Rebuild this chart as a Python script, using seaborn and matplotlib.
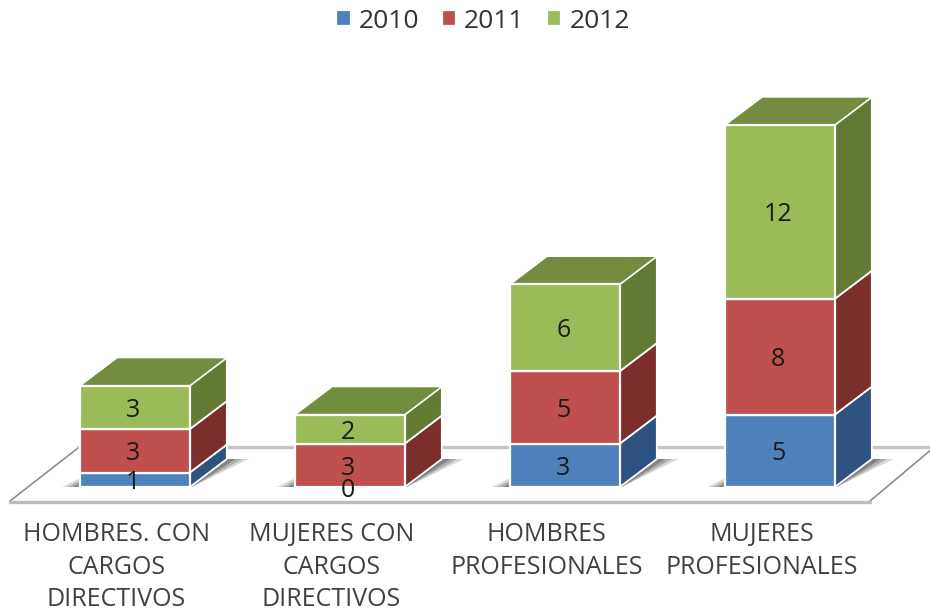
import matplotlib
matplotlib.use('Agg')
import numpy as np
import matplotlib.pyplot as plt
import seaborn as sns
from matplotlib.patches import Polygon

categories = ['HOMBRES. CON\nCARGOS\nDIRECTIVOS', 'MUJERES CON\nCARGOS\nDIRECTIVOS',
              'HOMBRES\nPROFESIONALES', 'MUJERES\nPROFESIONALES']
years = ['2010', '2011', '2012']
v2010 = [1, 0, 3, 5]
v2011 = [3, 3, 5, 8]
v2012 = [3, 2, 6, 12]

front = ['#4f81bd', '#c0504d', '#9bbb59']
side = ['#2f5380', '#7b2f2d', '#637a35']
top_col = '#738d40'

sns.set_theme(style='white')
plt.rcParams['font.family'] = ['Open Sans', 'DejaVu Sans']

fig = plt.figure(figsize=(9.3, 6.11), dpi=100)
# axes stop at the bar baseline, labels hang below it
ax = fig.add_axes([0, 124 / 611, 1, 487 / 611])

# 215 px between bars, 14.48 px per unit
ux, uy = 1 / 215, 1 / 14.48
depth_x, depth_y = 37 * ux, 28 * uy

def fx(p):
    return (p - 135) * ux

def fy(p):
    return (487 - p) * uy

# floor
floor = Polygon([(fx(10), fy(501)), (fx(870), fy(501)), (fx(932), fy(447)), (fx(78), fy(447))],
                closed=True, fc='white', ec='none', zorder=0, clip_on=False)
ax.add_patch(floor)
ax.plot([fx(10), fx(78)], [fy(501), fy(448)], color='#8c8c8c', lw=1.2, zorder=1, clip_on=False)
ax.plot([fx(870), fx(932)], [fy(501), fy(449)], color='#8c8c8c', lw=1.2, zorder=1, clip_on=False)
ax.plot([fx(78), fx(932)], [fy(446.5), fy(446.5)], color='#c4c4c4', lw=2.4, zorder=1, clip_on=False)
ax.plot([fx(10), fx(870)], [fy(501.5), fy(501.5)], color='#bdbdbd', lw=2.4, zorder=1, clip_on=False)

x = np.arange(len(categories))
bottom = np.zeros(len(categories))
containers = []
for year, vals, col in zip(years, [v2010, v2011, v2012], front):
    sns.barplot(x=x, y=vals, bottom=bottom, color=col, saturation=1, width=0.51,
                native_scale=True, label=year, edgecolor='white', linewidth=1.6, zorder=3, ax=ax)
    containers.append(ax.containers[-1])
    bottom = bottom + np.array(vals)

ax.set_xlim(fx(0), fx(930))
ax.set_ylim(0, 487 * uy)

# faked depth: side and top faces taken from the drawn bars
for cont, scol in zip(containers, side):
    for p in cont.patches:
        x1 = p.get_x() + p.get_width()
        y0, h = p.get_y(), p.get_height()
        if h == 0:
            continue
        ax.add_patch(Polygon([(x1, y0), (x1 + depth_x, y0 + depth_y),
                              (x1 + depth_x, y0 + h + depth_y), (x1, y0 + h)],
                             closed=True, fc=scol, ec='white', lw=1.3, zorder=2.5))

for p in containers[-1].patches:
    x0, x1 = p.get_x(), p.get_x() + p.get_width()
    yt = p.get_y() + p.get_height()
    ax.add_patch(Polygon([(x0, yt), (x0 + depth_x, yt + depth_y),
                          (x1 + depth_x, yt + depth_y), (x1, yt)],
                         closed=True, fc=top_col, ec='white', lw=1.0, zorder=2.5))

# soft shadow on the floor
for p in containers[0].patches:
    x0, x1 = p.get_x(), p.get_x() + p.get_width()
    for grow, a in zip([1.0, 0.7, 0.4], [0.2, 0.28, 0.38]):
        ax.add_patch(Polygon([(x0 - 18 * grow * ux, 0), (x0, 9 * grow * uy), (x1, 9 * uy),
                              (x1 + depth_x, depth_y), (x1 + depth_x + 22 * grow * ux, depth_y),
                              (x1 + 2 * ux, 0)],
                             closed=True, fc='#404040', ec='none', alpha=a, zorder=2))

for cont in containers:
    anns = ax.bar_label(cont, labels=[f'{v:g}' for v in cont.datavalues], label_type='center',
                        fontsize=18, color='#1a1a1a', zorder=6)
    for a in anns:
        a.xyann = (-1.2, -2.2)

ax.set_xticks(x - 18.5 * ux, categories)
ax.tick_params(axis='x', length=0, pad=25.5, labelsize=18, labelcolor='#404040')
for lab in ax.get_xticklabels():
    lab.set_linespacing(1.38)
ax.set_yticks([])
ax.set_xlabel('')
ax.set_ylabel('')
sns.despine(ax=ax, left=True, bottom=True)
ax.patch.set_alpha(0)

ax.legend(loc='upper center', bbox_to_anchor=(483 / 930, 1 - 6 / 611), bbox_transform=fig.transFigure,
          ncol=3, frameon=False, fontsize=19, handlelength=0.55, handleheight=0.55,
          handletextpad=0.3, columnspacing=0.85, labelcolor='#333333', borderaxespad=0, borderpad=0.1)

fig.savefig('out.png', dpi=100)
